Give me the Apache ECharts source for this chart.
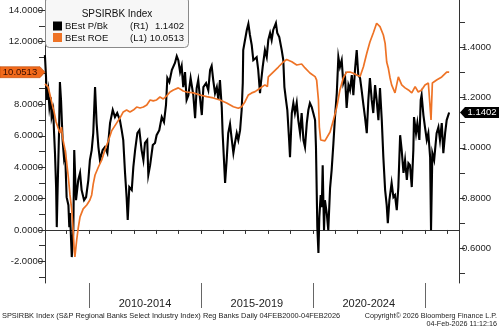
<!DOCTYPE html>
<html>
<head>
<meta charset="utf-8">
<script src="https://cdn.jsdelivr.net/npm/echarts@6/dist/echarts.min.js"></script>
<style>
  html, body { margin: 0; padding: 0; background: #ffffff; }
  #chart { width: 500px; height: 331px; }
</style>
</head>
<body>
<div id="chart"></div>
<script>
// SPSIRBK Index: best-estimate price/book (right axis) and ROE (left axis), 2008 to Feb 2026
const pbDates = [
  2008.03, 2008.08, 2008.11, 2008.18, 2008.23, 2008.29, 2008.33, 2008.40, 2008.44, 2008.48,
  2008.53, 2008.56, 2008.60, 2008.66, 2008.70, 2008.75, 2008.82, 2008.88, 2008.93, 2009.00,
  2009.08, 2009.12, 2009.15, 2009.20, 2009.23, 2009.30, 2009.34, 2009.42, 2009.52, 2009.60,
  2009.67, 2009.78, 2009.87, 2009.97, 2010.04, 2010.12, 2010.19, 2010.27, 2010.34, 2010.42,
  2010.49, 2010.61, 2010.71, 2010.82, 2010.94, 2011.06, 2011.16, 2011.26, 2011.38, 2011.46,
  2011.53, 2011.61, 2011.68, 2011.73, 2011.80, 2011.91, 2011.98, 2012.06, 2012.16, 2012.25,
  2012.35, 2012.43, 2012.50, 2012.60, 2012.65, 2012.73, 2012.85, 2012.95, 2013.02, 2013.14,
  2013.25, 2013.35, 2013.44, 2013.50, 2013.59, 2013.70, 2013.84, 2013.92, 2013.99, 2014.07,
  2014.14, 2014.21, 2014.29, 2014.36, 2014.44, 2014.54, 2014.66, 2014.74, 2014.81, 2014.88,
  2014.96, 2015.04, 2015.11, 2015.23, 2015.33, 2015.41, 2015.48, 2015.55, 2015.63, 2015.71,
  2015.78, 2015.85, 2015.93, 2015.97, 2016.03, 2016.08, 2016.15, 2016.22, 2016.30, 2016.38,
  2016.45, 2016.52, 2016.60, 2016.67, 2016.75, 2016.82, 2016.87, 2016.89, 2016.97, 2017.05,
  2017.12, 2017.19, 2017.27, 2017.34, 2017.42, 2017.49, 2017.56, 2017.64, 2017.68, 2017.76,
  2017.86, 2017.94, 2018.01, 2018.09, 2018.16, 2018.23, 2018.35, 2018.41, 2018.50, 2018.61,
  2018.68, 2018.73, 2018.80, 2018.86, 2018.94, 2018.98, 2019.06, 2019.13, 2019.20, 2019.28,
  2019.35, 2019.43, 2019.50, 2019.58, 2019.65, 2019.73, 2019.80, 2019.87, 2019.95, 2020.02,
  2020.10, 2020.14, 2020.17, 2020.20, 2020.25, 2020.29, 2020.35, 2020.40, 2020.44, 2020.47,
  2020.50, 2020.54, 2020.62, 2020.69, 2020.77, 2020.84, 2020.92, 2020.99, 2021.07, 2021.14,
  2021.21, 2021.29, 2021.36, 2021.44, 2021.51, 2021.59, 2021.66, 2021.74, 2021.81, 2021.89,
  2021.96, 2022.03, 2022.11, 2022.18, 2022.26, 2022.33, 2022.41, 2022.48, 2022.55, 2022.63,
  2022.70, 2022.78, 2022.85, 2022.93, 2023.00, 2023.08, 2023.15, 2023.23, 2023.30, 2023.35,
  2023.42, 2023.45, 2023.52, 2023.60, 2023.67, 2023.75, 2023.82, 2023.90, 2023.97, 2024.05,
  2024.12, 2024.20, 2024.27, 2024.34, 2024.42, 2024.49, 2024.52, 2024.61, 2024.67, 2024.76,
  2024.82, 2024.86, 2024.94, 2025.01, 2025.09, 2025.16, 2025.24, 2025.28, 2025.34, 2025.42,
  2025.53, 2025.61, 2025.68, 2025.76, 2025.83, 2025.91, 2025.98, 2026.09
];
const pbValues = [
  1.368, 1.281, 1.190, 1.229, 1.162, 1.201, 1.122, 1.150, 1.058, 0.979,
  0.844, 0.685, 0.844, 1.058, 1.261, 1.190, 1.031, 0.963, 0.991, 0.804,
  0.772, 0.685, 0.741, 0.633, 0.566, 0.673, 0.991, 0.792, 0.872, 0.900,
  0.832, 0.792, 0.804, 0.872, 0.951, 0.991, 1.058, 1.241, 1.098, 1.003,
  0.951, 0.991, 1.003, 0.979, 1.098, 1.150, 1.122, 1.138, 1.110, 1.070,
  1.031, 0.900, 0.804, 0.713, 0.844, 0.832, 0.923, 0.991, 1.058, 1.070,
  0.991, 0.951, 1.019, 1.031, 0.892, 0.931, 1.011, 1.019, 1.050, 1.070,
  1.122, 1.102, 1.170, 1.277, 1.261, 1.309, 1.337, 1.364, 1.348, 1.301,
  1.325, 1.241, 1.301, 1.190, 1.209, 1.277, 1.209, 1.118, 1.237, 1.269,
  1.197, 1.130, 1.241, 1.257, 1.229, 1.309, 1.325, 1.269, 1.217, 1.241,
  1.190, 1.269, 1.162, 1.058, 0.951, 0.860, 0.951, 1.058, 1.094, 1.031,
  0.979, 1.019, 1.058, 1.031, 1.070, 1.150, 1.257, 1.388, 1.428, 1.468,
  1.492, 1.448, 1.408, 1.348, 1.348, 1.360, 1.309, 1.217, 1.257, 1.321,
  1.388, 1.360, 1.428, 1.456, 1.428, 1.468, 1.495, 1.456, 1.440, 1.388,
  1.348, 1.241, 1.190, 1.150, 1.031, 0.963, 1.138, 1.178, 1.138, 1.178,
  1.110, 1.058, 1.138, 1.031, 1.003, 1.098, 1.150, 1.178, 1.162, 1.138,
  1.110, 1.003, 0.844, 0.685, 0.582, 0.725, 0.812, 0.764, 0.931, 0.792,
  0.673, 0.792, 0.741, 0.673, 0.840, 0.911, 1.019, 1.122, 1.217, 1.360,
  1.321, 1.348, 1.257, 1.281, 1.158, 1.249, 1.229, 1.289, 1.209, 1.317,
  1.388, 1.289, 1.277, 1.229, 1.170, 1.122, 1.058, 1.190, 1.277, 1.190,
  1.138, 1.249, 1.190, 1.110, 1.237, 1.110, 0.963, 0.832, 0.772, 0.701,
  0.792, 0.792, 0.860, 0.804, 0.812, 0.752, 0.844, 1.050, 0.991, 0.900,
  0.951, 0.872, 0.939, 0.931, 0.844, 0.991, 1.122, 1.058, 1.098, 1.031,
  1.190, 1.209, 1.130, 1.082, 1.031, 1.058, 0.963, 0.673, 0.979, 0.951,
  1.058, 1.082, 1.031, 1.098, 0.979, 1.058, 1.110, 1.1402
];

const roeDates = [
  2008.03, 2008.17, 2008.26, 2008.35, 2008.44, 2008.53, 2008.62, 2008.70, 2008.77, 2008.84,
  2008.93, 2009.00, 2009.08, 2009.15, 2009.23, 2009.29, 2009.34, 2009.37, 2009.45, 2009.52,
  2009.60, 2009.74, 2009.90, 2010.04, 2010.12, 2010.19, 2010.27, 2010.42, 2010.57, 2010.71,
  2010.86, 2011.01, 2011.24, 2011.38, 2011.53, 2011.68, 2011.83, 2011.98, 2012.13, 2012.28,
  2012.43, 2012.58, 2012.73, 2012.87, 2013.02, 2013.17, 2013.32, 2013.47, 2013.62, 2013.77,
  2013.99, 2014.21, 2014.36, 2014.66, 2014.96, 2015.26, 2015.55, 2015.85, 2016.15, 2016.45,
  2016.67, 2016.82, 2016.97, 2017.12, 2017.27, 2017.42, 2017.64, 2017.86, 2017.97, 2018.01,
  2018.23, 2018.46, 2018.68, 2018.83, 2019.06, 2019.28, 2019.50, 2019.65, 2019.87, 2020.10,
  2020.17, 2020.25, 2020.29, 2020.35, 2020.54, 2020.77, 2020.92, 2021.07, 2021.21, 2021.36,
  2021.51, 2021.66, 2021.81, 2021.96, 2022.11, 2022.18, 2022.26, 2022.41, 2022.55, 2022.70,
  2022.85, 2022.93, 2023.00, 2023.15, 2023.23, 2023.30, 2023.37, 2023.45, 2023.52, 2023.67,
  2023.82, 2023.97, 2024.12, 2024.27, 2024.42, 2024.57, 2024.71, 2024.86, 2025.01, 2025.16,
  2025.24, 2025.28, 2025.34, 2025.53, 2025.76, 2025.83, 2025.98, 2026.09
];
const roeValues = [
  9.30, 9.11, 8.60, 8.03, 7.52, 6.88, 6.50, 6.18, 6.56, 5.73,
  5.10, 4.33, 3.31, 2.23, 1.28, 0.00, -1.27, -1.72, -0.64, 0.13,
  0.83, 1.34, 1.59, 1.91, 2.23, 2.93, 3.50, 4.01, 4.46, 5.10,
  5.67, 6.31, 6.82, 7.13, 7.52, 7.64, 7.52, 7.64, 7.83, 7.77,
  7.83, 7.96, 8.28, 8.22, 8.28, 8.47, 8.35, 8.54, 8.79, 8.92,
  9.05, 8.85, 8.79, 8.73, 8.60, 8.49, 8.41, 8.28, 8.09, 7.85,
  7.75, 7.85, 8.17, 8.60, 8.73, 8.81, 9.03, 9.24, 9.13, 9.75,
  10.06, 10.38, 10.70, 10.86, 10.72, 10.51, 10.57, 10.32, 10.00, 9.77,
  9.55, 8.28, 6.56, 5.73, 5.67, 6.24, 7.01, 7.83, 8.92, 9.68,
  10.06, 10.06, 9.98, 9.87, 9.77, 9.81, 10.40, 11.26, 11.97, 12.55,
  13.17, 13.27, 12.95, 12.42, 11.89, 10.70, 10.32, 9.68, 9.24, 8.73,
  9.75, 9.24, 9.05, 8.92, 8.73, 9.13, 8.79, 8.92, 9.24, 9.36,
  9.43, 7.01, 9.36, 9.55, 9.75, 9.87, 10.06, 10.0513
];

// Axis ticks and labels
const leftTickValues = [-3, -2, -1, 0, 1, 2, 3, 4, 5, 6, 7, 8, 9, 10, 11, 12, 13, 14];
const leftLabelValues = [-2, 0, 2, 4, 6, 8, 10, 12, 14];
const rightTickValues = [0.5, 0.6, 0.7, 0.8, 0.9, 1.0, 1.1, 1.2, 1.3, 1.4, 1.5];
const rightLabelValues = [0.6, 0.8, 1.0, 1.2, 1.4];
const yearTickValues = [2009, 2010, 2011, 2012, 2013, 2014, 2015, 2016, 2017, 2018,
                        2019, 2020, 2021, 2022, 2023, 2024, 2025, 2026];
const periodBoundaries = [2010, 2015, 2020, 2025];
const periodCenters = [2012.5, 2017.5, 2022.5];
const periodLabels = ['2010-2014', '2015-2019', '2020-2024'];

const seriesNames = ['BEst P/Bk', 'BEst ROE'];
const seriesAxisTags = ['(R1)', '(L1)'];
const tickerTitle = 'SPSIRBK Index';
const footerLeft = 'SPSIRBK Index (S&P Regional Banks Select Industry Index) Reg Banks Daily 04FEB2000-04FEB2026';
const footerRight1 = 'Copyright\u00a9 2026 Bloomberg Finance L.P.';
const footerRight2 = '04-Feb-2026 11:12:16';

const BLACK = '#000000';
const ORANGE = '#ee7326';
const AXIS = '#333333';
const FONT = '"Liberation Sans", Arial, sans-serif';

const chart = echarts.init(document.getElementById('chart'), null, { renderer: 'canvas' });

const pbData = pbDates.map((d, i) => [d, pbValues[i]]);
const roeData = roeDates.map((d, i) => [d, roeValues[i]]);
const lastPb = pbValues[pbValues.length - 1];
const lastRoe = roeValues[roeValues.length - 1];

chart.setOption({
  animation: false,
  backgroundColor: '#ffffff',
  grid: { left: 45, right: 41, top: 0, bottom: 48, containLabel: false },
  xAxis: [
    {
      type: 'value', min: 2008.034, max: 2026.53, position: 'bottom',
      axisLine: { show: true, lineStyle: { color: AXIS, width: 1 } },
      axisTick: { show: true, inside: false, length: 4, customValues: yearTickValues,
                  lineStyle: { color: AXIS } },
      axisLabel: {
        show: true, customValues: periodCenters, margin: 15,
        fontFamily: FONT, fontSize: 11, color: '#222',
        formatter: (v) => {
          const k = periodCenters.findIndex(c => Math.abs(c - v) < 1e-6);
          return k >= 0 ? periodLabels[k] : '';
        }
      },
      splitLine: { show: false }
    },
    {
      type: 'value', min: 2008.034, max: 2026.53, position: 'bottom',
      axisLine: { show: false },
      axisTick: { show: true, inside: false, length: 25, customValues: periodBoundaries,
                  lineStyle: { color: '#666', width: 1 } },
      axisLabel: { show: false },
      splitLine: { show: false }
    }
  ],
  yAxis: [
    {
      type: 'value', min: -3.38, max: 14.65, position: 'left',
      axisLine: { show: true, lineStyle: { color: AXIS } },
      axisTick: { show: true, inside: false, length: 6, customValues: leftTickValues,
                  lineStyle: { color: AXIS } },
      axisLabel: { show: true, customValues: leftLabelValues, margin: 2,
                   fontFamily: FONT, fontSize: 9.5, color: '#222',
                   formatter: (v) => v.toFixed(4) },
      splitLine: { show: false }
    },
    {
      type: 'value', min: 0.463, max: 1.587, position: 'right',
      axisLine: { show: true, lineStyle: { color: AXIS } },
      axisTick: { show: true, inside: false, length: 6, customValues: rightTickValues,
                  lineStyle: { color: AXIS } },
      axisLabel: { show: true, customValues: rightLabelValues, margin: 3,
                   fontFamily: FONT, fontSize: 9.5, color: '#222',
                   formatter: (v) => v.toFixed(4) },
      splitLine: { show: false }
    }
  ],
  series: [
    {
      name: seriesNames[0], type: 'line', xAxisIndex: 0, yAxisIndex: 1,
      data: pbData, showSymbol: false, symbol: 'none',
      lineStyle: { color: BLACK, width: 2.1, join: 'miter' }, z: 2
    },
    {
      name: seriesNames[1], type: 'line', xAxisIndex: 0, yAxisIndex: 0,
      data: roeData, showSymbol: false, symbol: 'none',
      lineStyle: { color: ORANGE, width: 1.7 }, z: 3
    }
  ]
});

// Last-value badges on both axes and the legend box
const roeY = chart.convertToPixel({ yAxisIndex: 0 }, lastRoe);
const pbY = chart.convertToPixel({ yAxisIndex: 1 }, lastPb);
const leftX = chart.convertToPixel({ xAxisIndex: 0 }, 2008.034);
const rightX = chart.convertToPixel({ xAxisIndex: 0 }, 2026.53);

const bh = 11;
const LEG_FONT = '9.5px ' + FONT;
chart.setOption({
  graphic: [
    {
      type: 'polygon', z: 100,
      shape: { points: [[0, roeY - bh / 2], [leftX - 5, roeY - bh / 2], [leftX, roeY],
                        [leftX - 5, roeY + bh / 2], [0, roeY + bh / 2]] },
      style: { fill: '#f26a1b', stroke: '#b84a0c', lineWidth: 0.6 }
    },
    {
      type: 'text', z: 101, x: 20, y: roeY,
      style: { text: lastRoe.toFixed(4), fill: '#3a0e00', font: '9.5px ' + FONT,
               align: 'center', verticalAlign: 'middle' }
    },
    {
      type: 'polygon', z: 100,
      shape: { points: [[rightX + 1, pbY], [rightX + 6, pbY - bh / 2], [499, pbY - bh / 2],
                        [499, pbY + bh / 2], [rightX + 6, pbY + bh / 2]] },
      style: { fill: '#000000' }
    },
    {
      type: 'text', z: 101, x: 482, y: pbY,
      style: { text: lastPb.toFixed(4), fill: '#ffffff', font: '9.5px ' + FONT,
               align: 'center', verticalAlign: 'middle' }
    },
    // legend box
    {
      type: 'rect', z: 90,
      shape: { x: 45.5, y: -3, width: 143, height: 50.5, r: 4 },
      style: { fill: '#f7f7f7', stroke: '#8a8a8a', lineWidth: 1 }
    },
    {
      type: 'text', z: 91, x: 117, y: 14,
      style: { text: tickerTitle, fill: '#111', font: '10px ' + FONT,
               align: 'center', verticalAlign: 'middle' }
    },
    {
      type: 'rect', z: 91, shape: { x: 53, y: 21.5, width: 9, height: 9 },
      style: { fill: BLACK }
    },
    {
      type: 'rect', z: 91, shape: { x: 53, y: 33, width: 9, height: 9 },
      style: { fill: ORANGE }
    },
    {
      type: 'text', z: 91, x: 65, y: 26.5,
      style: { text: seriesNames[0], fill: '#111', font: LEG_FONT, verticalAlign: 'middle' }
    },
    {
      type: 'text', z: 91, x: 130, y: 26.5,
      style: { text: seriesAxisTags[0], fill: '#111', font: LEG_FONT, verticalAlign: 'middle' }
    },
    {
      type: 'text', z: 91, x: 184, y: 26.5,
      style: { text: lastPb.toFixed(4), fill: '#111', font: LEG_FONT,
               align: 'right', verticalAlign: 'middle' }
    },
    {
      type: 'text', z: 91, x: 65, y: 38,
      style: { text: seriesNames[1], fill: '#111', font: LEG_FONT, verticalAlign: 'middle' }
    },
    {
      type: 'text', z: 91, x: 130, y: 38,
      style: { text: seriesAxisTags[1], fill: '#111', font: LEG_FONT, verticalAlign: 'middle' }
    },
    {
      type: 'text', z: 91, x: 184, y: 38,
      style: { text: lastRoe.toFixed(4), fill: '#111', font: LEG_FONT,
               align: 'right', verticalAlign: 'middle' }
    },
    // footer
    {
      type: 'text', z: 91, x: 2, y: 316,
      style: { text: footerLeft, fill: '#222', font: '7.4px ' + FONT, verticalAlign: 'middle' }
    },
    {
      type: 'text', z: 91, x: 497, y: 316,
      style: { text: footerRight1, fill: '#222', font: '7.2px ' + FONT,
               align: 'right', verticalAlign: 'middle' }
    },
    {
      type: 'text', z: 91, x: 497, y: 324.5,
      style: { text: footerRight2, fill: '#222', font: '7.2px ' + FONT,
               align: 'right', verticalAlign: 'middle' }
    }
  ]
});
</script>
</body>
</html>
